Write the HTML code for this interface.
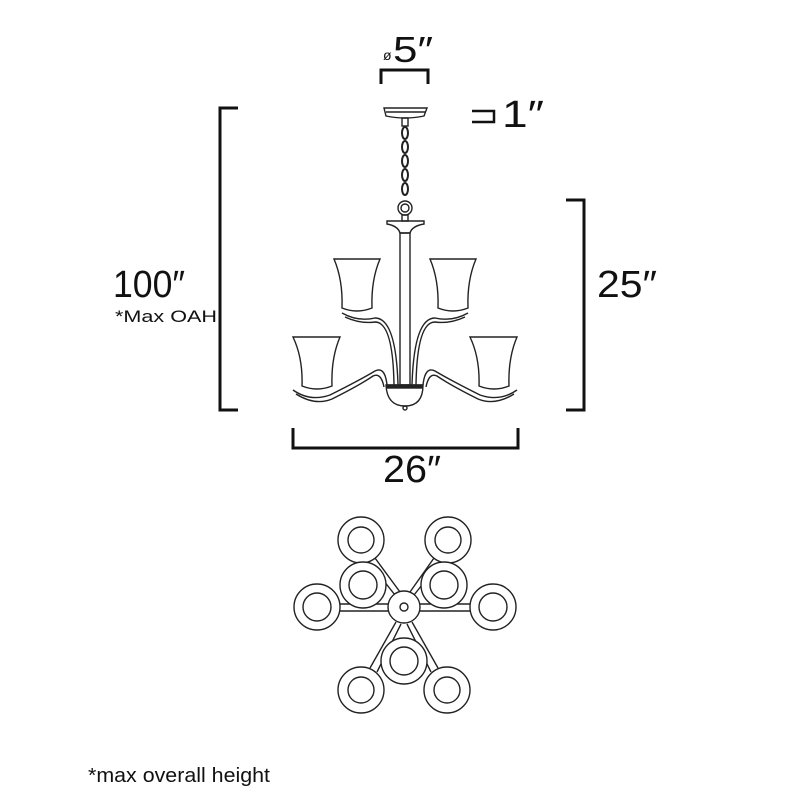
<!DOCTYPE html>
<html><head><style>
html,body{margin:0;padding:0;background:#fff;}
svg{display:block;}
text{font-family:"Liberation Sans",sans-serif;fill:#111;}
</style></head><body>
<svg width="800" height="800" viewBox="0 0 800 800" xmlns="http://www.w3.org/2000/svg">
<g fill="none" stroke="#111" stroke-width="3">
<polyline points="238,108 220,108 220,410 238,410"/>
<polyline points="566,200 584,200 584,410 566,410"/>
<polyline points="293,428 293,448 518,448 518,428"/>
<polyline points="381,84 381,70 428,70 428,84"/>
<polyline points="472,111 494,111 494,122 472,122" stroke-width="2.5"/>
</g>
<text x="383" y="60" font-size="14">ø</text>
<text x="393" y="62" font-size="36" textLength="40" lengthAdjust="spacingAndGlyphs">5″</text>
<text x="502" y="127" font-size="38" textLength="42" lengthAdjust="spacingAndGlyphs">1″</text>
<text x="113" y="297" font-size="38" textLength="72" lengthAdjust="spacingAndGlyphs">100″</text>
<text x="115" y="322" font-size="17" textLength="102" lengthAdjust="spacingAndGlyphs">*Max OAH</text>
<text x="597" y="297" font-size="38" textLength="60" lengthAdjust="spacingAndGlyphs">25″</text>
<text x="383" y="482" font-size="38" textLength="58" lengthAdjust="spacingAndGlyphs">26″</text>
<text x="88" y="782" font-size="20" textLength="182" lengthAdjust="spacingAndGlyphs">*max overall height</text>

<g fill="none" stroke="#222" stroke-width="1.4">
<path d="M384,108 L427,108 L424,116 Q405,120 386,116 Z"/>
<line x1="386" y1="112" x2="425" y2="112"/>
<rect x="402" y="118" width="6" height="8"/>
<g stroke-width="2">
<ellipse cx="405" cy="133" rx="3" ry="6"/><ellipse cx="405" cy="147" rx="3" ry="6"/>
<ellipse cx="405" cy="161" rx="3" ry="6"/><ellipse cx="405" cy="175" rx="3" ry="6"/>
<ellipse cx="405" cy="189" rx="3" ry="6"/>
</g>
<circle cx="405" cy="208" r="7"/><circle cx="405" cy="208" r="4"/>
<rect x="402" y="215" width="6" height="6"/>
<path d="M387,221 L424,221 L424,224 Q412,226 410,233 L400,233 Q398,226 387,224 Z"/>
<rect x="400" y="233" width="10" height="152"/>
<path d="M334,259 L380,259 Q371,280 372,308 Q357,314 342,308 Q343,280 334,259 Z"/>
<path d="M430,259 L476,259 Q467,280 468,308 Q453,314 438,308 Q439,280 430,259 Z"/>
<path d="M293,337 L340,337 Q331,358 332,386 Q317,392 302,386 Q303,358 293,337 Z"/>
<path d="M470,337 L517,337 Q508,358 509,386 Q494,392 479,386 Q480,358 470,337 Z"/>
<path d="M342,313 Q358,322 375,318 Q396,318 398,385"/>
<path d="M345,317 Q360,324 375,322 Q393,322 394,385"/>
<path d="M468,313 Q452,322 435,318 Q414,318 412,385"/>
<path d="M465,317 Q450,324 435,322 Q417,322 416,385"/>
<path d="M293,390 Q310,402 330,395 Q360,380 375,371 Q385,366 387,385"/>
<path d="M296,394 Q315,406 332,399 Q360,385 373,376 Q381,372 384,387"/>
<path d="M517,390 Q500,402 480,395 Q450,380 435,371 Q425,366 423,385"/>
<path d="M514,394 Q495,406 478,399 Q450,385 437,376 Q429,372 426,387"/>
<path d="M386,385 L423,385 Q423,406 405,406 Q387,406 386,385 Z" />
<rect x="387" y="385" width="35" height="3" fill="#222"/>
<circle cx="405" cy="408" r="2"/>
</g>

<g fill="none" stroke="#222" stroke-width="1.4">
<line x1="368" y1="561" x2="395" y2="595"/><line x1="375" y1="558" x2="400" y2="592"/>
<line x1="441" y1="561" x2="414" y2="595"/><line x1="434" y1="558" x2="410" y2="592"/>
<line x1="340" y1="604" x2="388" y2="604"/><line x1="340" y1="611" x2="388" y2="611"/>
<line x1="470" y1="604" x2="420" y2="604"/><line x1="470" y1="611" x2="420" y2="611"/>
<line x1="370" y1="668" x2="396" y2="622"/><line x1="377" y1="672" x2="401" y2="624"/>
<line x1="438" y1="668" x2="412" y2="622"/><line x1="431" y1="672" x2="407" y2="624"/>
<g fill="#fff">
<circle cx="361" cy="540" r="23"/><circle cx="448" cy="540" r="23"/>
<circle cx="363" cy="585" r="23"/><circle cx="444" cy="585" r="23"/>
<circle cx="317" cy="607" r="23"/><circle cx="493" cy="607" r="23"/>
<circle cx="404" cy="661" r="23"/>
<circle cx="361" cy="690" r="23"/><circle cx="447" cy="690" r="23"/>
<circle cx="404" cy="607" r="16"/>
</g>
<circle cx="361" cy="540" r="13"/><circle cx="448" cy="540" r="13"/>
<circle cx="363" cy="585" r="14"/><circle cx="444" cy="585" r="14"/>
<circle cx="317" cy="607" r="14"/><circle cx="493" cy="607" r="14"/>
<circle cx="404" cy="661" r="14"/>
<circle cx="361" cy="690" r="13"/><circle cx="447" cy="690" r="13"/>
<circle cx="404" cy="607" r="4"/>
</g>
</svg>
</body></html>
